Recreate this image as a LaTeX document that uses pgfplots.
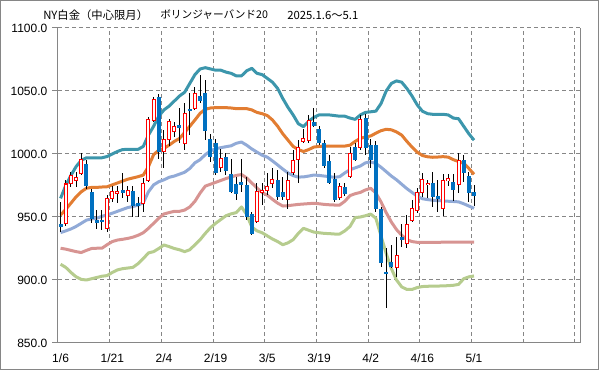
\documentclass[border=0pt]{standalone}
\usepackage{pgfplots}
\pgfplotsset{compat=1.18}
\usepackage{pgfplotstable}
\usepackage{fontspec}
\setmainfont{Liberation Sans}
\newfontfamily\jp{Noto Sans CJK JP}
\definecolor{bbteal}{RGB}{60,150,172}
\definecolor{bborange}{RGB}{226,125,50}
\definecolor{bbmid}{RGB}{145,170,215}
\definecolor{bbpink}{RGB}{215,148,146}
\definecolor{bbgreen}{RGB}{182,204,142}
\definecolor{cblue}{RGB}{0,112,192}
\definecolor{frame}{RGB}{134,134,134}

\pgfplotstableread{
i o h l c
1 945 979 943 976.2
2 976.7 986 974 983.3
3 979 986 974 981
4 984.7 1000.5 983.3 995.8
9 941 967.5 938.3 964.8
10 964.8 975 962 970.6
11 968.8 975 961 970.6
13 966.9 975 962 971.4
16 960.9 980.7 954.2 976.7
17 978.8 1029.6 978 1027
18 1026.4 1045.5 1025 1043.4
20 1001.8 1019 989 1011.9
21 1011.9 1027.5 1006.3 1025.6
22 1017.7 1025.6 1013.5 1022.2
24 1008.5 1040.7 1003.2 1032.3
26 1036.3 1053.4 1035 1048.2
31 989.4 1003.7 986 996.6
38 946.3 977.2 945.5 970.6
39 969.6 976.7 959.5 971.4
40 971.4 984.7 967.5 974.6
41 976.7 988.6 972.8 979.4
44 964 986 956 978.8
45 985.2 1003.2 983.3 995.2
46 995.8 1011 976.7 1005.3
47 1009.8 1019.6 1008.5 1012.4
48 1010.6 1031 1008.5 1026.4
54 965.6 976.7 963.5 974
56 982.5 1005.8 980.7 1000.5
58 1005.3 1031 1003.2 1027.5
65 910 934.4 902.6 919.8
67 929.1 951.6 925.2 944.4
68 947.6 963.5 946.3 956.9
69 955 972.8 952.9 969.6
70 969.6 984.7 966 979.9
71 975.6 979.4 964.8 976.7
74 956.9 984.5 950.5 979
75 979.1 984 975 980.2
77 976 1000.5 969 994.5
}\up

\pgfplotstableread{
i o h l c
0 944.4 962 938 941.8
5 992 995 972 974.6
6 970 972 945 948.4
7 947.6 955.6 940.5 945
8 947.6 955.6 939.7 946.3
12 971.4 984.7 965 969.3
14 970.9 975 950.2 959
15 960.9 966 950 959
19 1045 1047.4 995.8 1001.8
23 1023 1036.3 1008.5 1020.4
25 1035.5 1048.2 1015 1034.4
27 1046 1062.7 1040.2 1042.3
28 1048.2 1058.7 1011 1018.5
29 1011.7 1016 993.6 997.9
30 1009 1012 983 984.7
32 997.4 1000.5 983 986.7
33 983.9 995.8 968.8 970
34 976.2 982 963.5 968.2
35 978 995.8 970 975.4
36 975.4 982 948 950.2
37 952.4 954.2 935.7 936.5
42 979.4 987.3 963.5 965.6
43 970 982 963.5 966
49 1025.6 1036.3 1021.7 1022.2
50 1019.6 1022 1007 1008.5
51 1009 1011 988.6 990.5
52 994.7 999.2 976.2 977.2
53 979.9 984.7 962.1 963.5
55 974 976.7 966.7 968.2
57 1005.3 1008.5 994.7 995.2
59 1028.3 1031.7 999.2 1004.5
60 1007 1012 989 995
61 1007 1010 954.2 956
62 956.3 958 910 913.7
63 906.6 925 877.5 905.3
64 914.5 927.8 909.3 910.6
66 934.4 944.4 926.4 931.7
72 976.7 985.5 958.2 966
73 966.7 979.4 954.2 964
76 978 984 963 971.7
78 995.2 999 977.5 984.7
79 982.3 986 962.1 968.8
80 969.8 975.4 959 966.4
}\down

\pgfplotstableread{
i u2 u1 m l1 l2
0 964.8 951.6 937.6 925.2 912.5
1 975 956 939 924.5 910
2 983 961 940.5 923.5 906
3 990 966 942.5 922.5 902.5
4 995 970 945 921.8 900.5
5 997 972.8 947.5 923.5 900
6 997 973.5 948.5 925 901
7 997 973.5 949 925.2 902
8 997 973.8 950.5 925.2 903
9 998 974 951.7 928 903.5
10 1000 975.5 953 930.5 906
11 1002 977 954.5 931.7 908
12 1003.5 978.5 956 932.3 909
13 1003.7 980 957.5 933 909.5
14 1003.7 981 958.3 934 910
15 1003.7 982 959.5 935.5 913
16 1006 983.3 961.2 937.5 917
17 1015 990 970 941 921.5
18 1022 999.5 975.5 945 922.5
19 1030 1003 978 949 925
20 1035 1004.5 979.5 952.4 927.8
21 1038 1007 981.5 953.5 926.5
22 1042 1010 982.5 954.5 925
23 1046 1012.3 984 954.5 924
24 1049 1017 985.5 955.5 922.5
25 1056 1022 988.5 958 924
26 1063 1027 993 962.5 928
27 1067.5 1032.3 995.5 969 932
28 1068.5 1035.5 999.5 974.5 937
29 1067.5 1036.5 1002.5 976 941.5
30 1066.5 1036.8 1004.2 977.5 945
31 1066.5 1036.8 1005 979 948
32 1065 1036.8 1005.8 980.5 951
33 1064 1036.5 1006.5 981.8 952.5
34 1062 1036 1008.5 983 953.5
35 1062 1036 1009.5 983.7 958
36 1066 1036 1007 981 952
37 1068 1035 1004 977 942
38 1064 1033 1001.5 973 939
39 1063 1032 999 969.5 937.5
40 1060 1030.5 997.5 967.3 935
41 1057 1027 994.5 964 932.5
42 1052 1022 991.3 961 930.5
43 1044 1016 988 958.7 928
44 1037 1011 985 959 929.5
45 1031 1006 982.8 959.5 932
46 1024 1003.5 981.7 960 937
47 1021.7 1002 981.8 960.3 941
48 1026 1003.5 982.5 960.6 939.5
49 1029 1005.5 983.3 960.9 938
50 1031 1006 983 960.5 937.5
51 1031 1006.3 982.5 960 937
52 1031 1006.3 982 959.7 936.8
53 1030.5 1006.3 981.5 959.5 936.5
54 1030 1006.3 982 959.5 936.5
55 1030 1006.3 985 962.5 939
56 1028.5 1007 987.5 967 942.5
57 1027.5 1010 989 968.5 949.5
58 1031 1012.4 990.5 969.5 950
59 1033 1013.5 993 971.5 951
60 1033.5 1014.3 993.7 972.8 952.3
61 1034 1016.5 992.5 969 949
62 1040 1018.5 989.5 962 935
63 1050 1019.6 986 953.5 921
64 1056 1019.2 982.5 946 909
65 1058 1017.5 979.5 940 900
66 1057 1015 976 935.5 894.5
67 1052 1010 972.5 932 892.5
68 1046 1005.5 969.5 930.5 892.5
69 1039 1001.5 966.5 929.9 894
70 1034 998.8 964.5 929.9 894.8
71 1032 997.8 963.8 929.9 895
72 1031.5 997.4 963.3 929.9 895.2
73 1031.5 997.6 963 929.9 895.2
74 1031.5 997.9 962.8 930 895.3
75 1031 997.5 962.5 930 895.5
76 1028.5 995.5 962.3 930 895.8
77 1028 994 962 930 896.5
78 1022 992.6 960.5 930 901
79 1016 988.5 958.7 930 902.5
80 1011 983.9 956.9 930 903.2
}\bands

\begin{document}
\begin{tikzpicture}
\useasboundingbox (0,0) rectangle (449.25pt,277.5pt);
\draw[frame, line width=0.75pt] (0.375pt,0.375pt) rectangle (448.875pt,277.125pt);
\begin{axis}[
  at={(43.5pt,20.25pt)}, anchor=south west,
  scale only axis, width=391.5pt, height=236.25pt,
  xmin=-0.5, xmax=100.5, ymin=850, ymax=1100,
  axis x line*=bottom, axis y line*=box,
  axis line style={draw=frame, line width=0.75pt, -},
  ytick={850,900,...,1100},
  xtick={0,10,...,80},
  xticklabels={1/6,1/21,2/4,2/19,3/5,3/19,4/2,4/16,5/1},
  minor xtick={9.5,19.5,...,99.5},
  xminorgrids, ymajorgrids,
  major grid style={frame, line width=0.75pt, dash pattern=on 3pt off 2.25pt},
  minor grid style={frame, line width=0.75pt, dash pattern=on 3pt off 2.25pt},
  tick align=outside, ytick pos=left, xtick pos=bottom,
  major tick length=4.5pt, minor tick length=0pt,
  xtick style={draw=none},
  ytick style={draw=frame, line width=0.75pt},
  /pgf/number format/assume math mode=true,
  y tick label style={font=\fontsize{9pt}{10pt}\selectfont, /pgf/number format/.cd, fixed, fixed zerofill, precision=1, 1000 sep={}},
  x tick label style={font=\fontsize{9pt}{10pt}\selectfont},
  clip=true,
  candle/.style={draw=none, mark=none, error bars/.cd, y dir=both, y explicit, error mark=none},
]
\addplot[bbteal, line width=2.25pt, line join=round] table[x=i, y=u2] {\bands};
\addplot[bborange, line width=2.25pt, line join=round] table[x=i, y=u1] {\bands};
\addplot[bbmid, line width=2.25pt, line join=round] table[x=i, y=m] {\bands};
\addplot[bbpink, line width=2.25pt, line join=round] table[x=i, y=l1] {\bands};
\addplot[bbgreen, line width=2.25pt, line join=round] table[x=i, y=l2] {\bands};
% wicks
\addplot[candle, error bar style={black, line width=0.75pt}]
  table[x=i, y expr={(\thisrow{h}+\thisrow{l})/2}, y error expr={(\thisrow{h}-\thisrow{l})/2}] {\up};
\addplot[candle, error bar style={black, line width=0.75pt}]
  table[x=i, y expr={(\thisrow{h}+\thisrow{l})/2}, y error expr={(\thisrow{h}-\thisrow{l})/2}] {\down};
% down bodies
\addplot[candle, error bar style={cblue, line width=3pt}]
  table[x=i, y expr={(\thisrow{o}+\thisrow{c})/2}, y error expr={max(abs(\thisrow{o}-\thisrow{c})/2,0.45)}] {\down};
% up bodies: red outline, white inside
\addplot[candle, error bar style={red, line width=3pt}]
  table[x=i, y expr={(\thisrow{o}+\thisrow{c})/2}, y error expr={abs(\thisrow{o}-\thisrow{c})/2+0.4}] {\up};
\addplot[candle, error bar style={white, line width=1.5pt}]
  table[x=i, y expr={(\thisrow{o}+\thisrow{c})/2}, y error expr={max(abs(\thisrow{o}-\thisrow{c})/2-0.4,0)}] {\up};
\end{axis}
\node[anchor=west, inner sep=0pt, font=\jp\fontsize{8.5pt}{10pt}\selectfont] at (32.25pt,266.25pt) {NY白金（中心限月）};
\node[anchor=west, inner sep=0pt, font=\jp\fontsize{8pt}{10pt}\selectfont] at (120pt,266.25pt) {ボリンジャーバンド20};
\node[anchor=west, inner sep=0pt, font=\jp\fontsize{8.5pt}{10pt}\selectfont] at (215.25pt,266.25pt) {2025.1.6～5.1};
\end{tikzpicture}
\end{document}
